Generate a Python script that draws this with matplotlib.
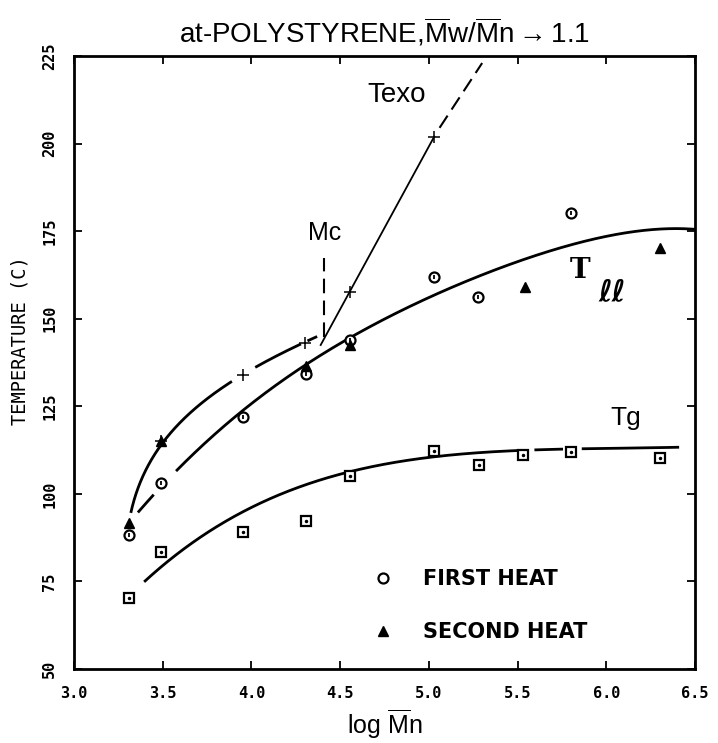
import numpy as np
import matplotlib
matplotlib.use("Agg")
import matplotlib.pyplot as plt
from matplotlib.lines import Line2D

plt.rcParams['font.family'] = ['Liberation Sans', 'DejaVu Sans']
plt.rcParams['mathtext.fontset'] = 'custom'
plt.rcParams['mathtext.rm'] = 'Liberation Sans'
plt.rcParams['mathtext.it'] = 'Liberation Sans:italic'
plt.rcParams['mathtext.bf'] = 'Liberation Sans:bold'

# ---------------- data ----------------
# First heat (open circles) - Tll
first_x = [3.31, 3.49, 3.95, 4.305, 4.553, 5.03, 5.276, 5.80]
first_t = [88.3, 103.0, 122.0, 134.2, 144.0, 162.0, 156.3, 180.1]
# Second heat (filled triangles)
second_x = [3.31, 3.49, 4.305, 4.553, 5.54, 6.30]
second_t = [91.6, 115.0, 136.5, 142.5, 159.1, 170.1]
# Texo (plus)
texo_x = [3.49, 3.95, 4.30, 4.553, 5.03]
texo_t = [115.0, 133.9, 143.0, 157.7, 202.0]
# Tg (open squares)
tg_x = [3.31, 3.49, 3.95, 4.305, 4.553, 5.03, 5.28, 5.53, 5.80, 6.30]
tg_t = [70.4, 83.3, 89.2, 92.2, 105.1, 112.3, 108.2, 111.1, 112.0, 110.3]

# Hand-drawn fitted curves (knots)
tll_curve_x = [3.36, 3.45, 3.57, 3.765, 3.95, 4.29, 4.55, 4.78, 5.03, 5.27, 5.55, 5.80, 6.10, 6.30, 6.50]
tll_curve_t = [94.2, 99.7, 107.8, 115.4, 122.5, 136.8, 144.5, 151.5, 156.0, 162.0, 166.8, 171.5, 174.4, 175.6, 175.5]
tg_curve_x = [3.395, 3.52, 3.71, 3.99, 4.27, 4.55, 4.78, 4.96, 5.47, 5.85, 6.41]
tg_curve_t = [74.6, 81.1, 86.8, 96.3, 102.0, 105.9, 108.7, 110.6, 112.0, 113.0, 113.3]
low_texo_x = [3.32, 3.37, 3.49, 3.68, 3.89, 4.02, 4.28, 4.37]
low_texo_t = [94.9, 102.0, 114.9, 124.0, 131.4, 136.6, 143.2, 144.6]
texo_line_x = [4.39, 5.03]
texo_line_t = [142.5, 202.0]
texo_dash_x = [5.06, 5.30]
texo_dash_t = [204.5, 223.0]
mc_x = 4.41
mc_t = [144.8, 167.3]

x_ticks = [3.0, 3.5, 4.0, 4.5, 5.0, 5.5, 6.0, 6.5]
y_ticks = [50, 75, 100, 125, 150, 175, 200, 225]


def smooth(x, y, xs, deg):
    c = np.polyfit(np.asarray(x) - 4.5, y, deg)
    return np.polyval(c, xs - 4.5)


def smooth_sqrt(x, y, xs, deg, x0=3.29):
    u = np.sqrt(np.asarray(x) - x0)
    c = np.polyfit(u, y, deg)
    return np.polyval(c, np.sqrt(xs - x0))


def draw(ax, xs, ys, gaps=(), **kw):
    ys = ys.copy()
    for a, b in gaps:
        ys[(xs > a) & (xs < b)] = np.nan
    ax.plot(xs, ys, color='black', solid_capstyle='butt', **kw)


fig = plt.figure(figsize=(7.18, 7.43), dpi=100)
ax = fig.add_axes([0.1031, 0.0996, 0.865, 0.825])

xs = np.linspace(tll_curve_x[0], tll_curve_x[-1], 600)
draw(ax, xs, smooth(tll_curve_x, tll_curve_t, xs, 5), gaps=[(3.45, 3.57)], lw=2.0)
xs = np.linspace(tg_curve_x[0], tg_curve_x[-1], 600)
draw(ax, xs, smooth(tg_curve_x, tg_curve_t, xs, 5), gaps=[(5.50, 5.59), (5.76, 5.86)], lw=2.0)
xs = np.linspace(low_texo_x[0], low_texo_x[-1], 600)
draw(ax, xs, smooth_sqrt(low_texo_x, low_texo_t, xs, 3), gaps=[(3.89, 4.02), (4.28, 4.315)], lw=2.0)
ax.plot(texo_line_x, texo_line_t, color='black', lw=1.3)
ax.plot(texo_dash_x, texo_dash_t, color='black', lw=1.5, ls=(0, (7, 3.5)))
ax.plot([mc_x, mc_x], mc_t, color='black', lw=1.5, ls=(0, (7, 3.5)))

ax.plot(tg_x, tg_t, ls='none', marker='s', ms=7, mfc='white', mec='black', mew=1.6)
ax.plot(tg_x, tg_t, ls='none', marker='.', ms=3, color='black')
ax.plot(first_x, first_t, ls='none', marker='o', ms=7.2, mfc='white', mec='black', mew=1.6)
ax.plot(first_x, first_t, ls='none', marker='|', ms=3.5, mew=1.3, color='black')
ax.plot(second_x, second_t, ls='none', marker='^', ms=7.5, color='black')
ax.plot(texo_x, texo_t, ls='none', marker='+', ms=9, mec='black', mew=1.1)

ax.set_xlim(3.0, 6.5)
ax.set_ylim(50, 225)
ax.set_xticks(x_ticks)
ax.set_yticks(y_ticks)
ax.set_xticklabels([f"{v:.1f}" for v in x_ticks], family='DejaVu Sans Mono', weight='bold', fontsize=11)
ax.set_yticklabels([str(v) for v in y_ticks], family='DejaVu Sans Mono', weight='bold', fontsize=11,
                   rotation=90, va='center')
ax.tick_params(direction='in', length=6, width=1.3, top=True, right=True, pad=12)
for s in ax.spines.values():
    s.set_linewidth(2.0)

ax.set_xlabel(r'log $\overline{\mathrm{M}}$n', fontsize=18, labelpad=5)
ax.set_ylabel('TEMPERATURE (C)', family='DejaVu Sans Mono', fontsize=13.5, labelpad=10)
ax.yaxis.set_label_coords(-0.072, 0.535)
ax.set_title(r'at-POLYSTYRENE,$\overline{\mathrm{M}}$w/$\overline{\mathrm{M}}$n$\rightarrow$1.1',
             fontsize=20, pad=10)

ax.text(4.82, 214, 'Texo', fontsize=20, ha='center', va='center')
ax.text(4.41, 174.5, 'Mc', fontsize=18, ha='center', va='center')
ax.text(6.11, 121.6, 'Tg', fontsize=19, ha='center', va='center')
ax.text(5.85, 163.9, 'T', fontsize=20, family='DejaVu Serif', weight='bold', ha='center', va='center')
ax.text(6.035, 157.3, '\u2113\u2113', fontsize=21, family='DejaVu Sans', weight='bold',
        ha='center', va='center')

handles = [Line2D([], [], ls='none', marker='o', ms=7.2, mfc='white', mec='black', mew=1.6),
           Line2D([], [], ls='none', marker='^', ms=7.5, color='black')]
fig.legend(handles, ['FIRST HEAT', 'SECOND HEAT'], loc='upper left',
           bbox_to_anchor=(0.519, 0.234), frameon=False,
           prop={'family': 'DejaVu Sans', 'weight': 'bold', 'size': 15},
           handlelength=1.0, handletextpad=1.4, labelspacing=1.6, borderpad=0, borderaxespad=0)

fig.savefig('out.png', dpi=100)
